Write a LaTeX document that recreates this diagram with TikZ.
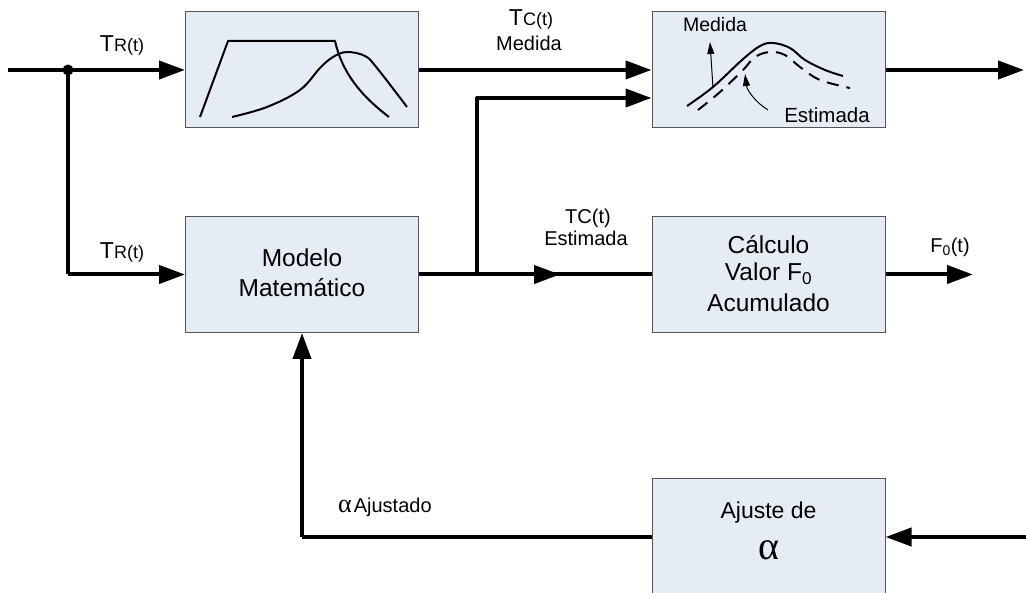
\documentclass[tikz,border=0pt]{standalone}
\usepackage{fontspec}
\setmainfont{Liberation Sans}
\newfontfamily\greekfont{Liberation Serif}
\usetikzlibrary{arrows.meta,calc}
\definecolor{boxfill}{HTML}{E6ECF6}
\definecolor{boxdraw}{HTML}{555555}
\begin{document}
\begin{tikzpicture}[x=1pt,y=-1pt,
  blk/.style={draw=boxdraw,line width=1pt,fill=boxfill,minimum width=233pt,minimum height=116pt,inner sep=0pt,align=center},
  btxt/.style={font=\fontsize{24.5}{24.5}\selectfont,inner sep=0pt},
  wire/.style={line width=4pt},
  arr/.style={wire,-{Triangle[length=26pt,width=18pt]}},
  lbl/.style={font=\fontsize{20}{22}\selectfont,inner sep=0pt},
  curve/.style={line width=2pt},
  thinarr/.style={line width=1pt,-{Triangle[length=12pt,width=7pt]}}]
\useasboundingbox (0,0) rectangle (1026,593);
\clip (0,0) rectangle (1026,593);
% blocks
\node[blk] (b1) at (302,70) {};
\node[blk] (b2) at (768.5,70) {};
\node[blk] (b3) at (302,274.5) {};
\node[blk] (b4) at (768.5,274.5) {};
\node[blk] (b5) at (768.5,537) {};
% block texts
\node[btxt] (t3a) at (302,258) {Modelo};
\node[btxt] (t3b) at (302,288) {Matemático};
\node[btxt] (t4a) at (768.5,245) {Cálculo};
\node[btxt] (t4b) at (768.5,274) {Valor F\textsubscript{0}};
\node[btxt] (t4c) at (768.5,303) {Acumulado};
\node[btxt,font=\fontsize{23}{23}\selectfont] (t5a) at (768.5,513) {Ajuste de};
\node[inner sep=0pt,font=\greekfont\fontsize{40}{40}\selectfont] (t5b) at (768.5,550) {α};
% curves in block 1
\draw[curve,line join=round] (200,117) -- (228,41) -- (335,41) .. controls (342,72) and (360,95) .. (389,117);
\draw[curve] plot[smooth,tension=0.6] coordinates {(232,117) (267,107) (300,90) (320,68) (333,57) (347,52) (365,56) (377,68) (407,107)};
% curves in block 2
\draw[curve] plot[smooth,tension=0.6] coordinates {(687,106) (713,87) (742,60) (760,46) (773,43) (790,48) (805,60) (825,70) (843,76)};
\draw[curve,dash pattern=on 12pt off 8pt] plot[smooth,tension=0.6] coordinates {(698,110) (720,92) (743,70) (755,57) (770,52) (785,55) (800,67) (820,80) (850,88)};
\node[font=\fontsize{19.5}{19.5}\selectfont,inner sep=0pt] (med) at (715,25) {Medida};
\node[font=\fontsize{20.5}{20.5}\selectfont,inner sep=0pt] (est) at (827,115) {Estimada};
\coordinate (mA) at (713,88);
\coordinate (mB) at (710,42);
\draw[thinarr] (mA) -- (mB);
\coordinate (eA) at (768,110);
\coordinate (eB) at (745,74);
\draw[thinarr] (eA) .. controls (755,102) and (747,90) .. (eB);
% input and junction
\coordinate (in) at (8,70);
\coordinate (j1) at (68,70);
\draw[arr] (in) -- (b1.west);
\fill (j1) circle (5.5pt);
\draw[wire,line join=round] (j1) -- (68,274.5) coordinate (c1);
\draw[arr] (c1) -- (b3.west);
\node[lbl] (lTR1) at (122,45) {\fontsize{23}{23}\selectfont T\fontsize{18}{18}\selectfont R(t)};
\node[lbl] (lTR2) at (122,252) {\fontsize{23}{23}\selectfont T\fontsize{18}{18}\selectfont R(t)};
% b1 -> b2
\draw[arr] (b1.east) -- (b2.west);
\node[lbl] (lTc) at (531,19) {\fontsize{23}{23}\selectfont T\fontsize{18}{18}\selectfont C(t)};
\node[lbl] (lMed) at (529,43) {Medida};
% output of b2
\coordinate (out1) at (1024,70);
\draw[arr] (b2.east) -- (out1);
% b3 -> b4 with branch
\coordinate (j2) at (477,274.5);
\coordinate (mid) at (560,274.5);
\draw[wire] (b3.east) -- (b4.west);
\draw[arr] (b3.east) -- (mid);
\draw[arr,line join=round] (j2) |- ([yshift=-28pt]b2.west);
\node[lbl] (lTC) at (588,218) {TC(t)};
\node[lbl] (lEst) at (586,238) {Estimada};
% output of b4
\coordinate (out2) at (973,274.5);
\draw[arr] (b4.east) -- (out2);
\node[lbl] (lF0) at (950,247) {F\textsubscript{0}(t)};
% feedback
\coordinate (c2) at (302,537);
\draw[wire,line join=round] (b5.west) -- (c2);
\draw[arr] (c2) -- (b3.south);
\node[lbl,anchor=west] (lAj) at (338,507) {{\greekfont\fontsize{26}{26}\selectfont α}\hspace{2pt}Ajustado};
% input to b5
\coordinate (in5) at (1030,537);
\draw[arr] (in5) -- (b5.east);
\end{tikzpicture}
\end{document}
